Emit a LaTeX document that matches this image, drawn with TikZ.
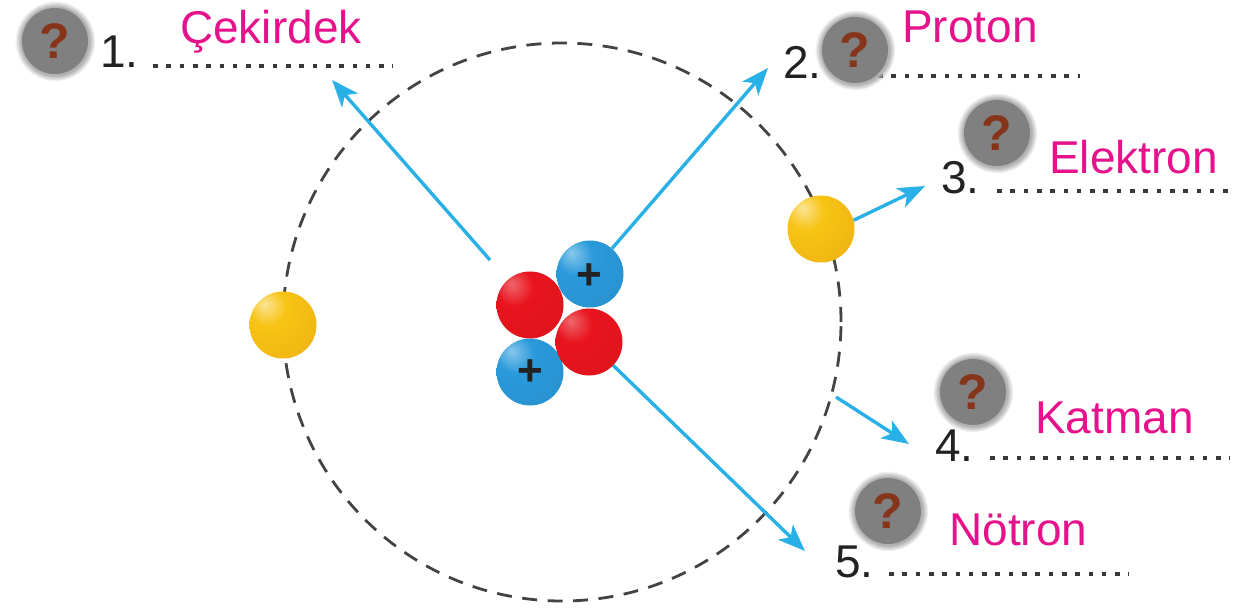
\documentclass[tikz,border=0pt]{standalone}
\usepackage{fontspec}
\setmainfont{Liberation Sans}
\usetikzlibrary{shadows,arrows.meta}
\definecolor{sky}{HTML}{2A9ADB}
\definecolor{gold}{HTML}{F7C414}
\definecolor{amber}{HTML}{D97F10}
\definecolor{ruby}{HTML}{E8141E}
\definecolor{arrowblue}{HTML}{29B0E6}
\definecolor{labelpink}{HTML}{E6128C}
\definecolor{badgegray}{HTML}{808080}
\definecolor{qbrown}{HTML}{86341A}
\definecolor{inkdark}{HTML}{222222}
% Sphere shadings with an off-centre highlight
\pgfdeclareradialshading{redball}{\pgfpoint{-14bp}{16bp}}{%
  color(0bp)=(ruby!65!white); color(14bp)=(ruby); color(50bp)=(ruby!95!black); color(80bp)=(ruby!85!black)}
\pgfdeclareradialshading{blueball}{\pgfpoint{-14bp}{16bp}}{%
  color(0bp)=(sky!55!white); color(14bp)=(sky); color(38bp)=(sky!95!black); color(62bp)=(sky!55!black); color(80bp)=(sky!45!black)}
\pgfdeclareradialshading{goldball}{\pgfpoint{-14bp}{16bp}}{%
  color(0bp)=(gold!45!white); color(14bp)=(gold); color(36bp)=(gold!80!amber); color(58bp)=(amber); color(80bp)=(amber!85!black)}
\tikzset{
  ball/.style={circle,minimum size=67pt,inner sep=0pt},
  proton/.style={ball,shading=blueball},
  neutron/.style={ball,shading=redball},
  electron/.style={ball,shading=goldball},
  badge/.style={circle,minimum size=66pt,inner sep=0pt,fill=badgegray,text=qbrown,
    font=\fontsize{50}{50}\selectfont\bfseries,
    circular drop shadow={shadow xshift=0pt,shadow yshift=0pt,shadow scale=1.22,fill=black!30}},
  term/.style={anchor=base west,inner sep=0pt,text=labelpink,font=\fontsize{46}{50}\selectfont},
  num/.style={anchor=base west,inner sep=0pt,text=inkdark,font=\fontsize{46}{50}\selectfont},
  plus/.style={inner sep=0pt,text=inkdark,font=\fontsize{44}{44}\selectfont\bfseries},
  pointer/.style={draw=arrowblue,line width=3.4pt,-{Stealth[length=27pt,width=21pt,inset=7pt]}},
  dotrow/.style={draw=inkdark!90,line width=4.6pt,dash pattern=on 4.6pt off 8.7pt},
  orbit/.style={draw=inkdark!85,line width=2.8pt,dash pattern=on 15pt off 10.5pt}
}
\begin{document}
\begin{tikzpicture}[x=1pt,y=-1pt]
\useasboundingbox (0,0) rectangle (1236,609);

% Electron shell
\coordinate (shell) at (562,322);
\draw[orbit] (shell) circle[radius=279pt];

% Arrow ends
\coordinate (core) at (490,260);
\coordinate (shellpt) at (836,397);
\coordinate (tip1) at (332,80);
\coordinate (tip2) at (768,68);
\coordinate (tip3) at (925,186);
\coordinate (tip4) at (909,444);
\coordinate (tip5) at (805,551);

% Nucleus
\node[proton] (p2) at (530,372) {};
\node[proton] (p1) at (590,274) {};
\node[neutron] (n1) at (530,305) {};
\node[neutron] (n2) at (589,342) {};
\node[plus] (pa) at (589,277) {+};
\node[plus] (pb) at (530,373) {+};

% Electrons
\node[electron] (e1) at (821,229) {};
\node[electron] (e2) at (283,325) {};

% Pointers
\draw[pointer] (core) -- (tip1);
\draw[pointer] (p1) -- (tip2);
\draw[pointer] (e1.15) -- (tip3);
\draw[pointer] (shellpt) -- (tip4);
\draw[pointer] (n2) -- (tip5);

% Answer lines
\foreach \i/\xa/\xb/\yy in {1/153/393/66,2/878/1080/76,3/997/1246/191,4/990/1230/458,5/889/1129/574}{
  \coordinate (la\i) at (\xa,\yy);
  \coordinate (lb\i) at (\xb,\yy);
  \draw[dotrow] (la\i) -- (lb\i);
}

% Numbers
\node[num] (k1) at (100,68) {1.};
\node[num] (k2) at (783,79) {2.};
\node[num] (k3) at (941,194) {3.};
\node[num] (k4) at (935,461) {4.};
\node[num] (k5) at (835,577) {5.};

% Terms
\node[term] (t1) at (180,44) {Çekirdek};
\node[term] (t2) at (902,43) {Proton};
\node[term] (t3) at (1049,174) {Elektron};
\node[term] (t4) at (1035,433) {Katman};
\node[term] (t5) at (949,545) {Nötron};

% Question badges
\node[badge] (b1) at (55,41) {?};
\node[badge] (b2) at (855,50) {?};
\node[badge] (b3) at (997,133) {?};
\node[badge] (b4) at (973,392) {?};
\node[badge] (b5) at (888,511) {?};
\end{tikzpicture}
\end{document}
